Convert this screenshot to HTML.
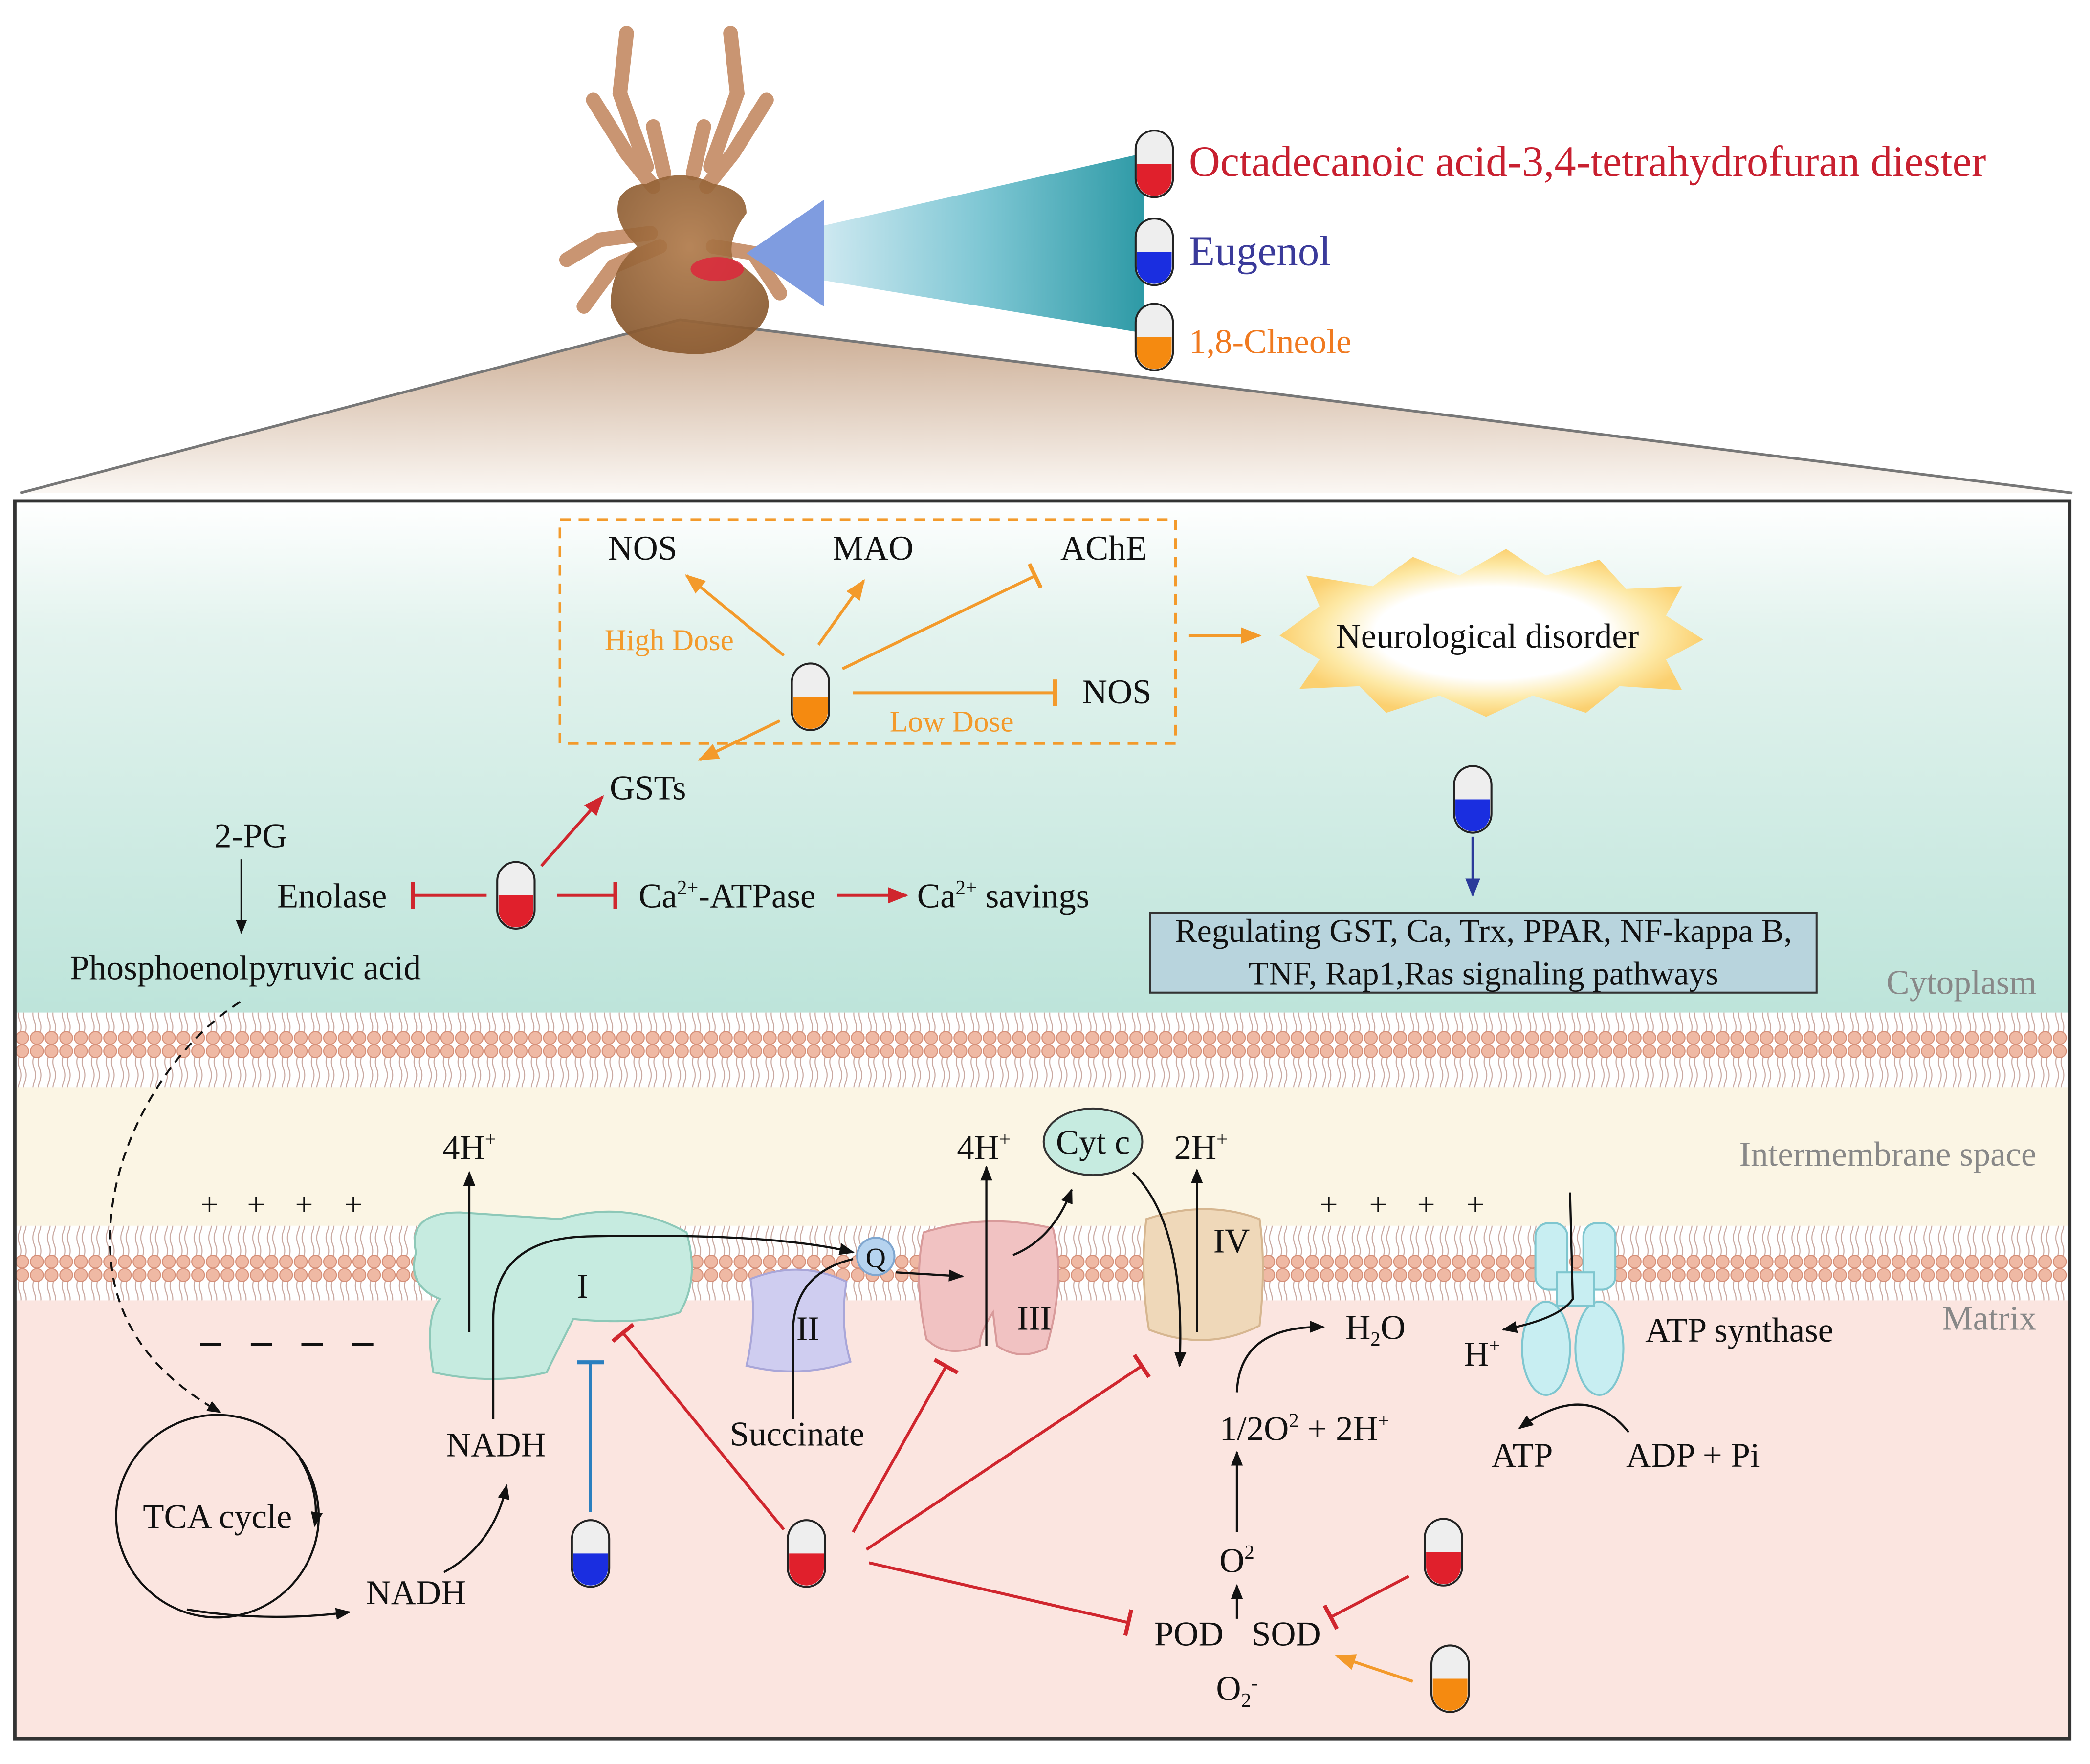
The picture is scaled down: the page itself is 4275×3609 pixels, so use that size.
<!DOCTYPE html>
<html><head><meta charset="utf-8"><style>
html,body{margin:0;padding:0;background:#fff;}
svg{display:block;}
text{font-family:"Liberation Serif",serif;}
</style></head><body>
<svg width="4275" height="3609" viewBox="0 0 1568 1324" xmlns="http://www.w3.org/2000/svg">
<defs>
<linearGradient id="fan" x1="0" y1="0" x2="0" y2="1">
<stop offset="0" stop-color="#c9a98f"/><stop offset="1" stop-color="#fbf7f3"/></linearGradient>
<linearGradient id="beam" x1="0" y1="0" x2="1" y2="0">
<stop offset="0" stop-color="#cfe9f1"/><stop offset="0.5" stop-color="#7fc7d4"/><stop offset="1" stop-color="#2e9aa6"/></linearGradient>
<linearGradient id="cyto" x1="0" y1="0" x2="0" y2="1">
<stop offset="0" stop-color="#ffffff"/><stop offset="0.25" stop-color="#e3f3ee"/><stop offset="1" stop-color="#bde4da"/></linearGradient>
<radialGradient id="burst" cx="0.5" cy="0.5" r="0.5">
<stop offset="0.55" stop-color="#fff"/><stop offset="0.8" stop-color="#fde9a6"/><stop offset="1" stop-color="#fbd070"/></radialGradient>
<radialGradient id="body" cx="0.5" cy="0.4" r="0.6">
<stop offset="0" stop-color="#b07a4a"/><stop offset="1" stop-color="#8a5a30"/></radialGradient>
<pattern id="mem" x="0" y="0" width="11" height="56" patternUnits="userSpaceOnUse">
<path d="M3.5 8 q-2 5 0 10 q2 5 0 10 M7.5 8 q-2 5 0 10 q2 5 0 10 M3.5 28 q-2 5 0 10 q2 5 0 10 M7.5 28 q-2 5 0 10 q2 5 0 10" stroke="#c9a8a0" stroke-width="0.8" fill="none"/>
<circle cx="5.5" cy="5" r="4.8" fill="#efb9a4" stroke="#d58f78" stroke-width="0.8"/>
<circle cx="5.5" cy="51" r="4.8" fill="#efb9a4" stroke="#d58f78" stroke-width="0.8"/>
</pattern>
<marker id="ak" viewBox="0 0 10 10" refX="9" refY="5" markerWidth="7" markerHeight="7" orient="auto-start-reverse"><path d="M0 1 L10 5 L0 9 z" fill="#111"/></marker>
<marker id="ao" viewBox="0 0 10 10" refX="9" refY="5" markerWidth="7" markerHeight="7" orient="auto"><path d="M0 1 L10 5 L0 9 z" fill="#f39a2b"/></marker>
<marker id="ar" viewBox="0 0 10 10" refX="9" refY="5" markerWidth="7" markerHeight="7" orient="auto"><path d="M0 1 L10 5 L0 9 z" fill="#d0262e"/></marker>
<marker id="ab" viewBox="0 0 10 10" refX="9" refY="5" markerWidth="7" markerHeight="7" orient="auto"><path d="M0 1 L10 5 L0 9 z" fill="#2b3a9a"/></marker>
<marker id="tr" viewBox="0 0 4 20" refX="2" refY="10" markerWidth="4" markerHeight="20" markerUnits="userSpaceOnUse" orient="auto"><rect x="0" y="0" width="3" height="20" fill="#d0262e"/></marker>
<marker id="to" viewBox="0 0 4 20" refX="2" refY="10" markerWidth="4" markerHeight="20" markerUnits="userSpaceOnUse" orient="auto"><rect x="0" y="0" width="3" height="20" fill="#f39a2b"/></marker>
<marker id="tb" viewBox="0 0 4 20" refX="2" refY="10" markerWidth="4" markerHeight="20" markerUnits="userSpaceOnUse" orient="auto"><rect x="0" y="0" width="3" height="20" fill="#2a7fbf"/></marker>
<g id="pill"><rect x="-14" y="-25" width="28" height="50" rx="14" fill="#eee" stroke="#222" stroke-width="1.5"/></g>
</defs>

<!-- fan -->
<path d="M510 240 L15 370 L1555 370 Z" fill="url(#fan)"/>
<path d="M510 240 L15 370 M510 240 L1555 370" stroke="#777" stroke-width="2" fill="none"/>

<!-- tick -->
<g stroke="#c99572" stroke-width="11" stroke-linecap="round" fill="none">
<path d="M470 25 L465 70 L485 125"/>
<path d="M548 25 L553 70 L533 125"/>
<path d="M445 75 L470 115 L490 140"/>
<path d="M575 75 L550 115 L530 140"/>
<path d="M490 95 L498 130"/><path d="M528 95 L520 130"/>
<path d="M488 175 L450 180 L425 195"/>
<path d="M495 185 L460 200 L438 230"/>
<path d="M535 185 L565 190 L585 220"/>
</g>
<path d="M485 138 Q510 125 535 138 Q560 142 560 160 Q545 180 550 195 Q590 220 570 245 Q545 270 510 265 Q468 262 458 230 Q458 200 478 185 Q458 165 465 148 Q472 138 485 138 Z" fill="url(#body)" opacity="0.92"/>
<ellipse cx="538" cy="202" rx="20" ry="9" fill="#e0223a" opacity="0.8"/>

<!-- beam -->
<path d="M615 170 L858 115 L858 250 L615 210 Z" fill="url(#beam)"/>
<path d="M560 190 L618 150 L618 230 Z" fill="#7f9ce0"/>
<g transform="translate(866,123)"><use href="#pill"/><path d="M-13 0 H13 V11 A13 13 0 0 1 -13 11 Z" fill="#e0202c"/></g>
<g transform="translate(866,189)"><use href="#pill"/><path d="M-13 0 H13 V11 A13 13 0 0 1 -13 11 Z" fill="#1a2ee0"/></g>
<g transform="translate(866,253)"><use href="#pill"/><path d="M-13 0 H13 V11 A13 13 0 0 1 -13 11 Z" fill="#f58a10"/></g>
<text x="892" y="132" font-size="32.5" fill="#c82030">Octadecanoic acid-3,4-tetrahydrofuran diester</text>
<text x="892" y="199" font-size="32" fill="#3a3a9a">Eugenol</text>
<text x="892" y="265" font-size="26" fill="#f07a20">1,8-Clneole</text>

<!-- main box regions -->
<rect x="11" y="376" width="1542" height="386" fill="url(#cyto)"/>
<rect x="11" y="815" width="1542" height="108" fill="#fbf5e4"/>
<rect x="11" y="975" width="1542" height="330" fill="#fbe5e0"/>
<rect x="11" y="760" width="1542" height="56" fill="#fff"/>
<rect x="11" y="760" width="1542" height="56" fill="url(#mem)"/>
<rect x="11" y="920" width="1542" height="56" fill="#fff"/>
<rect x="11" y="920" width="1542" height="56" fill="url(#mem)"/>
<rect x="11" y="376" width="1542" height="929" fill="none" stroke="#333" stroke-width="2.5"/>

<g font-size="26" fill="#888">
<text x="1528" y="746" text-anchor="end">Cytoplasm</text>
<text x="1528" y="875" text-anchor="end">Intermembrane space</text>
<text x="1528" y="998" text-anchor="end">Matrix</text>
</g>

<!-- dashed box -->
<rect x="420" y="390" width="462" height="168" fill="none" stroke="#f39a2b" stroke-width="2" stroke-dasharray="8 6"/>
<g font-size="26" fill="#111">
<text x="482" y="420" text-anchor="middle">NOS</text>
<text x="655" y="420" text-anchor="middle">MAO</text>
<text x="828" y="420" text-anchor="middle">AChE</text>
<text x="812" y="528">NOS</text>
<text x="486" y="600" text-anchor="middle">GSTs</text>
</g>
<text x="502" y="488" font-size="22.5" fill="#f39a2b" text-anchor="middle">High Dose</text>
<text x="714" y="549" font-size="22.5" fill="#f39a2b" text-anchor="middle">Low Dose</text>
<g stroke="#f39a2b" stroke-width="2.2" fill="none">
<path d="M588 492 L515 432" marker-end="url(#ao)"/>
<path d="M614 484 L648 436" marker-end="url(#ao)"/>
<path d="M632 502 L777 432" marker-end="url(#to)"/>
<path d="M640 520 L792 520" marker-end="url(#to)"/>
<path d="M585 541 L525 570" marker-end="url(#ao)"/>
<path d="M892 477 L945 477" marker-end="url(#ao)"/>
</g>
<g transform="translate(608,523)"><use href="#pill"/><path d="M-13 0 H13 V11 A13 13 0 0 1 -13 11 Z" fill="#f58a10"/></g>

<!-- burst -->
<path d="M960 477 L990 455 L980 432 L1030 440 L1060 418 L1095 432 L1130 412 L1160 432 L1200 420 L1220 442 L1262 440 L1250 462 L1278 480 L1250 495 L1262 518 L1215 515 L1190 535 L1150 522 L1115 538 L1080 522 L1040 535 L1020 515 L975 517 L990 495 Z" fill="url(#burst)"/>
<text x="1116" y="486" font-size="26" text-anchor="middle" fill="#111">Neurological disorder</text>

<g transform="translate(1105,600)"><use href="#pill"/><path d="M-13 0 H13 V11 A13 13 0 0 1 -13 11 Z" fill="#1a2ee0"/></g>
<path d="M1105 628 L1105 672" stroke="#2b3a9a" stroke-width="2" marker-end="url(#ab)"/>
<rect x="863" y="685" width="500" height="60" fill="#b8d4dd" stroke="#333" stroke-width="1.5"/>
<g font-size="25" fill="#111" text-anchor="middle">
<text x="1113" y="707">Regulating GST, Ca, Trx, PPAR, NF-kappa B,</text>
<text x="1113" y="739">TNF, Rap1,Ras signaling pathways</text>
</g>

<!-- left cytoplasm -->
<g font-size="26" fill="#111">
<text x="188" y="636" text-anchor="middle">2-PG</text>
<text x="249" y="681" text-anchor="middle">Enolase</text>
<text x="479" y="681">Ca<tspan font-size="15" dy="-10">2+</tspan><tspan dy="10">-ATPase</tspan></text>
<text x="688" y="681">Ca<tspan font-size="15" dy="-10">2+</tspan><tspan dy="10"> savings</tspan></text>
<text x="184" y="735" text-anchor="middle">Phosphoenolpyruvic acid</text>
</g>
<path d="M181 645 L181 700" stroke="#111" stroke-width="1.5" marker-end="url(#ak)"/>
<g stroke="#d0262e" stroke-width="2.2" fill="none">
<path d="M365 672 L309 672" marker-end="url(#tr)"/>
<path d="M418 672 L462 672" marker-end="url(#tr)"/>
<path d="M628 672 L680 672" marker-end="url(#ar)"/>
<path d="M406 650 L452 598" marker-end="url(#ar)"/>
</g>
<g transform="translate(387,672)"><use href="#pill"/><path d="M-13 0 H13 V11 A13 13 0 0 1 -13 11 Z" fill="#e0202c"/></g>
<path d="M180 752 C120 790 70 880 85 960 C95 1010 130 1040 165 1060" stroke="#111" stroke-width="1.5" fill="none" stroke-dasharray="7 5" marker-end="url(#ak)"/>

<!-- + / - -->
<g font-size="24" fill="#111" text-anchor="middle">
<text x="157" y="912">+</text><text x="192" y="912">+</text><text x="228" y="912">+</text><text x="265" y="912">+</text>
<text x="997" y="912">+</text><text x="1034" y="912">+</text><text x="1070" y="912">+</text><text x="1107" y="912">+</text>
</g>
<path d="M150 1009 H280" stroke="#111" stroke-width="2.5" stroke-dasharray="16 22"/>

<!-- complexes -->
<path d="M312 940 Q305 910 345 910 L420 915 Q470 900 515 925 Q525 960 510 985 Q480 995 430 990 L410 1030 Q370 1040 325 1030 Q318 990 330 975 Q305 965 312 940 Z" fill="#c6ebe0" stroke="#8dc8b8" stroke-width="1.5"/>
<path d="M563 960 Q600 945 635 962 Q630 995 638 1022 Q600 1035 560 1025 Q568 990 563 960 Z" fill="#cfcdf0" stroke="#a9a6d8" stroke-width="1.5"/>
<path d="M693 925 Q740 910 790 922 Q800 960 785 1012 Q765 1022 748 1010 L745 985 Q735 1000 735 1010 Q710 1020 695 1005 Q685 960 693 925 Z" fill="#f1c2c2" stroke="#d89a9a" stroke-width="1.5"/>
<path d="M860 915 Q905 900 945 915 Q950 950 945 995 Q905 1015 862 998 Q855 955 860 915 Z" fill="#efd8b9" stroke="#d6b690" stroke-width="1.5"/>
<g fill="#c8eef2" stroke="#7fc6cf" stroke-width="1.5">
<rect x="1152" y="918" width="24" height="50" rx="10"/>
<rect x="1188" y="918" width="24" height="50" rx="10"/>
<ellipse cx="1160" cy="1012" rx="18" ry="35"/>
<ellipse cx="1200" cy="1012" rx="18" ry="35"/>
<rect x="1168" y="955" width="28" height="25"/>
</g>
<circle cx="657" cy="943" r="14" fill="#b6d3ef" stroke="#7fa6cf" stroke-width="1.5"/>
<ellipse cx="820" cy="857" rx="37" ry="25" fill="#c6ebe0" stroke="#333" stroke-width="1.5"/>
<g font-size="26" fill="#111">
<text x="437" y="974" text-anchor="middle">I</text>
<text x="606" y="1006" text-anchor="middle">II</text>
<text x="776" y="998" text-anchor="middle">III</text>
<text x="924" y="940" text-anchor="middle">IV</text>
<text x="657" y="951" text-anchor="middle" font-size="21">Q</text>
<text x="820" y="866" text-anchor="middle">Cyt c</text>
<text x="352" y="870" text-anchor="middle">4H<tspan font-size="15" dy="-10">+</tspan></text>
<text x="738" y="870" text-anchor="middle">4H<tspan font-size="15" dy="-10">+</tspan></text>
<text x="901" y="870" text-anchor="middle">2H<tspan font-size="15" dy="-10">+</tspan></text>
<text x="372" y="1093" text-anchor="middle">NADH</text>
<text x="598" y="1085" text-anchor="middle">Succinate</text>
<text x="1032" y="1005" text-anchor="middle">H<tspan font-size="15" dy="5">2</tspan><tspan dy="-5">O</tspan></text>
<text x="915" y="1081">1/2O<tspan font-size="15" dy="-10">2</tspan><tspan dy="10">  + 2H</tspan><tspan font-size="15" dy="-10">+</tspan></text>
<text x="928" y="1180" text-anchor="middle">O<tspan font-size="15" dy="-10">2</tspan></text>
<text x="892" y="1235" text-anchor="middle">POD</text>
<text x="965" y="1235" text-anchor="middle">SOD</text>
<text x="928" y="1276" text-anchor="middle">O<tspan font-size="15" dy="5">2</tspan><tspan font-size="15" dy="-13">-</tspan></text>
<text x="1305" y="1007" text-anchor="middle">ATP synthase</text>
<text x="1112" y="1025" text-anchor="middle">H<tspan font-size="15" dy="-10">+</tspan></text>
<text x="1142" y="1101" text-anchor="middle">ATP</text>
<text x="1220" y="1101">ADP +   Pi</text>
<text x="163" y="1147" text-anchor="middle">TCA cycle</text>
<text x="312" y="1204" text-anchor="middle">NADH</text>
</g>
<g stroke="#111" stroke-width="1.6" fill="none">
<path d="M352 1000 L352 880" marker-end="url(#ak)"/>
<path d="M370 1065 L370 990 Q370 930 440 928 Q580 925 640 940" marker-end="url(#ak)"/>
<path d="M595 1065 L595 995 Q598 955 640 945"/>
<path d="M672 955 L722 958" marker-end="url(#ak)"/>
<path d="M740 1010 L740 876" marker-end="url(#ak)"/>
<path d="M760 942 Q790 930 804 893" marker-end="url(#ak)"/>
<path d="M898 1000 L898 878" marker-end="url(#ak)"/>
<path d="M850 880 Q890 920 885 1025" marker-end="url(#ak)"/>
<path d="M928 1045 Q930 995 993 996" marker-end="url(#ak)"/>
<path d="M928 1150 L928 1090" marker-end="url(#ak)"/>
<path d="M928 1215 L928 1190" marker-end="url(#ak)"/>
<path d="M1178 895 L1180 975 Q1170 990 1128 998" marker-end="url(#ak)"/>
<path d="M1222 1075 Q1190 1035 1140 1072" marker-end="url(#ak)"/>
<circle cx="163" cy="1138" r="76"/>
<path d="M225 1095 Q240 1120 236 1145" marker-end="url(#ak)"/>
<path d="M140 1208 Q200 1218 262 1210" marker-end="url(#ak)"/>
<path d="M333 1180 Q370 1160 380 1115" marker-end="url(#ak)"/>
</g>

<!-- inhibitors matrix -->
<path d="M443 1135 L443 1022" stroke="#2a7fbf" stroke-width="2.2" marker-end="url(#tb)"/>
<g transform="translate(443,1166)"><use href="#pill"/><path d="M-13 0 H13 V11 A13 13 0 0 1 -13 11 Z" fill="#1a2ee0"/></g>
<g stroke="#d0262e" stroke-width="2.2" fill="none">
<path d="M588 1148 L467 1000" marker-end="url(#tr)"/>
<path d="M640 1150 L710 1025" marker-end="url(#tr)"/>
<path d="M650 1163 L857 1025" marker-end="url(#tr)"/>
<path d="M652 1173 L847 1218" marker-end="url(#tr)"/>
<path d="M1057 1183 L998 1214" marker-end="url(#tr)"/>
</g>
<path d="M1060 1262 L1003 1243" stroke="#f39a2b" stroke-width="2.2" marker-end="url(#ao)"/>
<g transform="translate(605,1166)"><use href="#pill"/><path d="M-13 0 H13 V11 A13 13 0 0 1 -13 11 Z" fill="#e0202c"/></g>
<g transform="translate(1083,1165)"><use href="#pill"/><path d="M-13 0 H13 V11 A13 13 0 0 1 -13 11 Z" fill="#e0202c"/></g>
<g transform="translate(1088,1260)"><use href="#pill"/><path d="M-13 0 H13 V11 A13 13 0 0 1 -13 11 Z" fill="#f58a10"/></g>
</svg>
</body></html>
